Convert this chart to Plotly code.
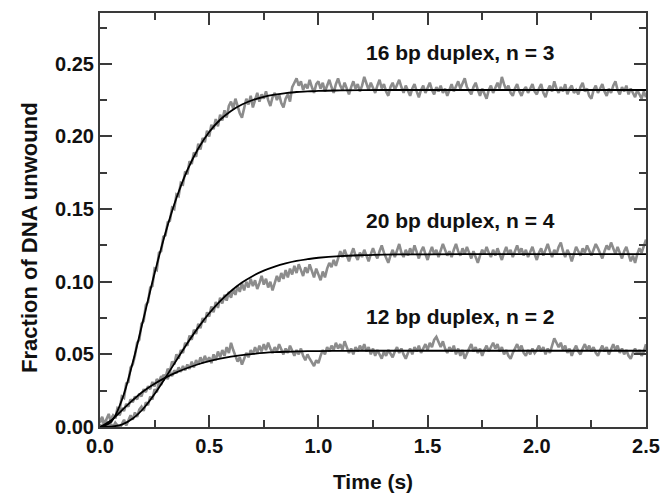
import plotly.graph_objects as go

t_data = [round(i * 0.01, 2) for i in range(251)]

dup16_data = [
    0.003, 0.006, 0.001, 0.004, 0.000, 0.005, 0.008, 0.006, 0.013, 0.012,
    0.021, 0.020, 0.030, 0.031, 0.041, 0.043, 0.049, 0.058, 0.060, 0.071,
    0.073, 0.084, 0.086, 0.096, 0.097, 0.109, 0.108, 0.120, 0.121, 0.131,
    0.132, 0.141, 0.142, 0.151, 0.150, 0.160, 0.159, 0.168, 0.167, 0.176,
    0.174, 0.183, 0.181, 0.189, 0.186, 0.195, 0.191, 0.199, 0.196, 0.204,
    0.200, 0.208, 0.205, 0.212, 0.207, 0.215, 0.211, 0.218, 0.213, 0.221,
    0.224, 0.219, 0.226, 0.221, 0.216, 0.213, 0.220, 0.226, 0.222, 0.228,
    0.220, 0.226, 0.230, 0.224, 0.229, 0.226, 0.231, 0.225, 0.221, 0.227,
    0.230, 0.225, 0.229, 0.223, 0.220, 0.226, 0.229, 0.224, 0.234, 0.237,
    0.240, 0.235, 0.238, 0.232, 0.236, 0.233, 0.239, 0.234, 0.230, 0.236,
    0.238, 0.233, 0.237, 0.231, 0.235, 0.239, 0.234, 0.230, 0.236, 0.240,
    0.235, 0.232, 0.237, 0.233, 0.229, 0.234, 0.238, 0.233, 0.236, 0.231,
    0.235, 0.241, 0.236, 0.232, 0.237, 0.234, 0.230, 0.235, 0.239, 0.233,
    0.236, 0.231, 0.228, 0.234, 0.237, 0.232, 0.235, 0.239, 0.234, 0.230,
    0.235, 0.232, 0.228, 0.233, 0.236, 0.231, 0.227, 0.232, 0.235, 0.230,
    0.234, 0.237, 0.232, 0.229, 0.234, 0.231, 0.235, 0.230, 0.233, 0.228,
    0.232, 0.236, 0.231, 0.234, 0.238, 0.233, 0.236, 0.240, 0.234, 0.231,
    0.229, 0.234, 0.237, 0.232, 0.228, 0.233, 0.230, 0.226, 0.232, 0.235,
    0.230, 0.234, 0.237, 0.233, 0.241, 0.236, 0.232, 0.235, 0.230, 0.228,
    0.233, 0.236, 0.231, 0.228, 0.232, 0.234, 0.230, 0.233, 0.236, 0.231,
    0.229, 0.233, 0.236, 0.230, 0.227, 0.232, 0.235, 0.231, 0.238, 0.233,
    0.230, 0.234, 0.231, 0.236, 0.229, 0.233, 0.235, 0.230, 0.232, 0.229,
    0.234, 0.237, 0.231, 0.233, 0.228, 0.226, 0.232, 0.235, 0.230, 0.233,
    0.236, 0.231, 0.228, 0.233, 0.230, 0.235, 0.238, 0.232, 0.229, 0.234,
    0.231, 0.235, 0.229, 0.233, 0.230, 0.227, 0.232, 0.229, 0.226, 0.231,
    0.227]

dup20_data = [
    0.002, -0.001, 0.003, 0.001, -0.002, 0.002, 0.000, 0.003, 0.001, -0.001,
    0.002, 0.005, 0.001, 0.004, 0.008, 0.005, 0.010, 0.007, 0.012, 0.014,
    0.011, 0.017, 0.015, 0.021, 0.019, 0.026, 0.024, 0.031, 0.029, 0.036,
    0.034, 0.040, 0.038, 0.045, 0.043, 0.050, 0.047, 0.053, 0.051, 0.058,
    0.056, 0.063, 0.060, 0.067, 0.064, 0.071, 0.068, 0.075, 0.072, 0.079,
    0.076, 0.083, 0.079, 0.086, 0.082, 0.089, 0.085, 0.091, 0.087, 0.093,
    0.089, 0.095, 0.091, 0.097, 0.093, 0.099, 0.094, 0.100, 0.096, 0.102,
    0.097, 0.101, 0.095, 0.099, 0.104, 0.098, 0.102, 0.096, 0.100, 0.094,
    0.099, 0.104, 0.100, 0.106, 0.102, 0.108, 0.103, 0.109, 0.105, 0.111,
    0.106, 0.112, 0.108, 0.104, 0.110, 0.106, 0.112, 0.108, 0.103, 0.109,
    0.105, 0.101, 0.107, 0.103, 0.109, 0.113, 0.110, 0.115, 0.111, 0.117,
    0.121, 0.117, 0.122, 0.118, 0.114, 0.119, 0.123, 0.118, 0.115, 0.120,
    0.117, 0.122, 0.118, 0.114, 0.119, 0.123, 0.119, 0.116, 0.121, 0.125,
    0.120, 0.116, 0.113, 0.118, 0.122, 0.117, 0.121, 0.126, 0.120, 0.117,
    0.122, 0.118, 0.123, 0.119, 0.125, 0.120, 0.116, 0.121, 0.124, 0.119,
    0.115, 0.120, 0.124, 0.119, 0.122, 0.117, 0.121, 0.126, 0.122, 0.118,
    0.121, 0.117, 0.122, 0.126, 0.121, 0.118, 0.123, 0.119, 0.124, 0.120,
    0.116, 0.121, 0.117, 0.113, 0.118, 0.122, 0.119, 0.124, 0.120, 0.117,
    0.122, 0.118, 0.123, 0.119, 0.115, 0.120, 0.124, 0.119, 0.122, 0.117,
    0.121, 0.125, 0.120, 0.123, 0.118, 0.122, 0.117, 0.121, 0.124, 0.119,
    0.115, 0.120, 0.123, 0.118, 0.122, 0.126, 0.121, 0.117, 0.122, 0.119,
    0.124, 0.127, 0.121, 0.117, 0.122, 0.119, 0.114, 0.120, 0.124, 0.121,
    0.118, 0.123, 0.120, 0.125, 0.121, 0.118, 0.122, 0.126, 0.123, 0.119,
    0.116, 0.121, 0.125, 0.122, 0.127, 0.123, 0.119, 0.124, 0.120, 0.116,
    0.121, 0.124, 0.119, 0.114, 0.118, 0.113, 0.119, 0.123, 0.120, 0.125,
    0.129]

dup12_data = [
    0.004, 0.007, 0.002, 0.006, 0.009, 0.003, 0.008, 0.006, 0.011, 0.008,
    0.013, 0.011, 0.016, 0.014, 0.019, 0.017, 0.021, 0.019, 0.023, 0.021,
    0.026, 0.024, 0.028, 0.026, 0.031, 0.028, 0.033, 0.031, 0.035, 0.032,
    0.036, 0.033, 0.038, 0.035, 0.039, 0.037, 0.041, 0.038, 0.042, 0.039,
    0.043, 0.040, 0.045, 0.041, 0.046, 0.043, 0.048, 0.044, 0.049, 0.045,
    0.048, 0.044, 0.050, 0.046, 0.052, 0.048, 0.053, 0.049, 0.055, 0.051,
    0.058, 0.053, 0.049, 0.045, 0.048, 0.043, 0.047, 0.051, 0.048, 0.053,
    0.050, 0.055, 0.051, 0.056, 0.052, 0.057, 0.053, 0.058, 0.054, 0.051,
    0.055, 0.052, 0.057, 0.053, 0.050, 0.054, 0.051, 0.056, 0.052, 0.049,
    0.053, 0.050, 0.054, 0.049, 0.046, 0.050, 0.047, 0.044, 0.042, 0.046,
    0.044, 0.049, 0.053, 0.050, 0.055, 0.052, 0.056, 0.053, 0.058, 0.054,
    0.057, 0.053, 0.059, 0.055, 0.051, 0.054, 0.050, 0.055, 0.052, 0.056,
    0.053, 0.057, 0.052, 0.055, 0.050, 0.054, 0.049, 0.053, 0.050, 0.047,
    0.052, 0.049, 0.053, 0.050, 0.048, 0.052, 0.055, 0.051, 0.054, 0.050,
    0.047, 0.051, 0.054, 0.050, 0.055, 0.052, 0.056, 0.051, 0.054, 0.057,
    0.053, 0.058, 0.055, 0.060, 0.062, 0.058, 0.055, 0.059, 0.054, 0.051,
    0.055, 0.052, 0.056, 0.050, 0.054, 0.049, 0.053, 0.047, 0.051, 0.054,
    0.057, 0.052, 0.055, 0.051, 0.054, 0.049, 0.053, 0.056, 0.052, 0.055,
    0.058, 0.054, 0.057, 0.052, 0.055, 0.050, 0.053, 0.049, 0.047, 0.051,
    0.054, 0.057, 0.053, 0.056, 0.051, 0.049, 0.053, 0.050, 0.054, 0.051,
    0.053, 0.056, 0.052, 0.055, 0.050, 0.054, 0.051, 0.057, 0.061, 0.058,
    0.055, 0.058, 0.053, 0.056, 0.051, 0.054, 0.049, 0.053, 0.056, 0.052,
    0.050, 0.054, 0.057, 0.053, 0.056, 0.052, 0.055, 0.051, 0.049, 0.053,
    0.056, 0.052, 0.055, 0.050, 0.054, 0.057, 0.053, 0.056, 0.051, 0.054,
    0.050, 0.053, 0.049, 0.047, 0.051, 0.054, 0.050, 0.053, 0.049, 0.052,
    0.057]

# fitted curves, read at these times (s)
t_fit = [0.0, 0.05, 0.1, 0.15, 0.2, 0.25, 0.3, 0.35, 0.4, 0.45, 0.5, 0.55, 0.6, 0.65,
         0.7, 0.75, 0.8, 0.85, 0.9, 0.95, 1.0, 1.1, 1.2, 1.3, 1.4, 1.5, 1.75, 2.0, 2.25, 2.5]

dup16_fit = [0.0, 0.0033, 0.0186, 0.0444, 0.0750, 0.1058, 0.1338, 0.1576, 0.1768, 0.1917,
             0.2031, 0.2115, 0.2176, 0.2220, 0.2251, 0.2273, 0.2288, 0.2298, 0.2306, 0.2310,
             0.2314, 0.2317, 0.2319, 0.2320, 0.2320, 0.2320, 0.2320, 0.2320, 0.2320, 0.2320]

dup20_fit = [0.0, 0.0002, 0.0016, 0.0058, 0.0129, 0.0227, 0.0340, 0.0460, 0.0577, 0.0686,
             0.0783, 0.0866, 0.0936, 0.0994, 0.1040, 0.1076, 0.1104, 0.1126, 0.1143, 0.1155,
             0.1165, 0.1177, 0.1183, 0.1187, 0.1188, 0.1189, 0.1190, 0.1190, 0.1190, 0.1190]

dup12_fit = [0.0, 0.0045, 0.0115, 0.0185, 0.0248, 0.0298, 0.0340, 0.0376, 0.0406, 0.0432,
             0.0453, 0.0470, 0.0484, 0.0495, 0.0503, 0.0510, 0.0515, 0.0518, 0.0520, 0.0522,
             0.0523, 0.0524, 0.0525, 0.0525, 0.0525, 0.0525, 0.0525, 0.0525, 0.0525, 0.0525]

labels = ["16 bp duplex, n = 3", "20 bp duplex, n = 4", "12 bp duplex, n = 2"]
label_x = [1.65, 1.65, 1.65]
label_y = [0.2575, 0.1425, 0.0758]

FONT = "Liberation Sans, Arial, Helvetica, sans-serif"
GRAY = "#8c8c8c"
INK = "#111111"

fig = go.Figure()
for d in (dup16_data, dup20_data, dup12_data):
    fig.add_trace(go.Scatter(x=t_data, y=d, mode="lines",
                             line=dict(color=GRAY, width=2.6), hoverinfo="skip"))
for f in (dup16_fit, dup20_fit, dup12_fit):
    fig.add_trace(go.Scatter(x=t_fit, y=f, mode="lines",
                             line=dict(color="black", width=1.8, shape="spline"),
                             hoverinfo="skip"))

for txt, x, y in zip(labels, label_x, label_y):
    fig.add_annotation(x=x, y=y, text=txt, showarrow=False,
                       font=dict(family=FONT, size=21, color=INK, weight="bold"))

# y-axis title (placed slightly below the plot centre, as in the original)
fig.add_annotation(xref="paper", yref="paper", x=-0.128, y=0.457,
                   text="Fraction of DNA unwound", textangle=-90, showarrow=False,
                   xanchor="center", yanchor="middle",
                   font=dict(family=FONT, size=22, color=INK, weight="bold"))

axis_common = dict(showline=True, linecolor="#3a3a3a", linewidth=2, mirror="allticks",
                   ticks="inside", ticklen=12, tickwidth=1.6, tickcolor="#3a3a3a",
                   showgrid=False, zeroline=False, automargin=False,
                   tickfont=dict(family=FONT, size=20, color=INK, weight="bold"))

fig.update_xaxes(range=[0, 2.5], dtick=0.5, tick0=0, tickformat=".1f",
                 minor=dict(dtick=0.25, ticks="inside", ticklen=7, tickwidth=1.6,
                            tickcolor="#3a3a3a"),
                 title=dict(text="Time (s)",
                            font=dict(family=FONT, size=21, color=INK, weight="bold"),
                            standoff=18),
                 **axis_common)
fig.update_yaxes(range=[0, 0.285], dtick=0.05, tick0=0, tickformat=".2f",
                 minor=dict(dtick=0.025, ticks="inside", ticklen=7, tickwidth=1.6,
                            tickcolor="#3a3a3a"),
                 **axis_common)

fig.update_layout(width=662, height=496, showlegend=False,
                  margin=dict(l=100, r=16, t=13, b=69),
                  paper_bgcolor="white", plot_bgcolor="white")

fig.write_html("out.html")
